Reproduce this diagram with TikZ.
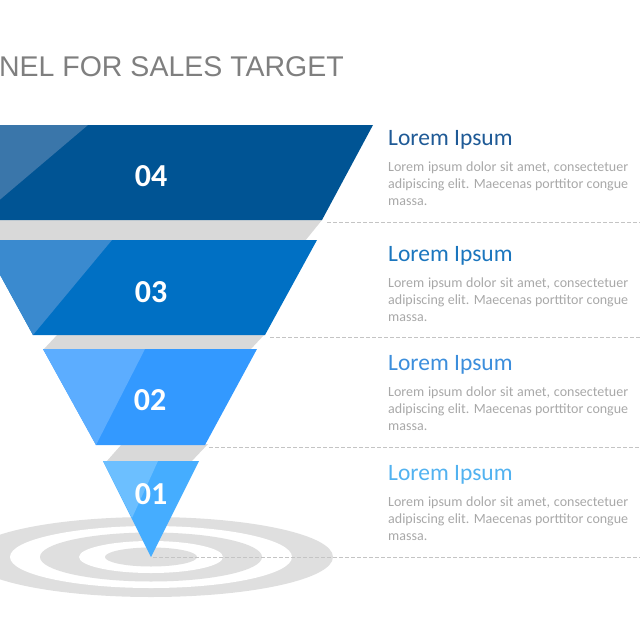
\documentclass[tikz,border=0pt]{standalone}
\usepackage{fontspec}
\setmainfont{Carlito}
\newfontfamily\headfont{Liberation Sans}
\definecolor{cA}{HTML}{005494}
\definecolor{cAl}{HTML}{3A76AA}
\definecolor{cB}{HTML}{0070C4}
\definecolor{cBl}{HTML}{3A8ACF}
\definecolor{cC}{HTML}{3399FF}
\definecolor{cCl}{HTML}{5CADFF}
\definecolor{cD}{HTML}{45ADFF}
\definecolor{cDl}{HTML}{6CBFFF}
\definecolor{tA}{HTML}{1F5A96}
\definecolor{tB}{HTML}{1B76BE}
\definecolor{tC}{HTML}{3C8EDC}
\definecolor{tD}{HTML}{52B2F0}
\definecolor{band}{HTML}{D9D9D9}
\definecolor{ring}{HTML}{DFDFDF}
\definecolor{bodygray}{HTML}{A8A8A8}
\definecolor{headgray}{HTML}{7F7F7F}
\definecolor{dashgray}{HTML}{C4C4C4}
\tikzset{
  numlabel/.style={text=white,font=\bfseries\fontsize{32}{36}\selectfont,inner sep=0pt},
  headline/.style={anchor=base west,inner sep=0pt,font=\fontsize{23.5}{28}\selectfont},
  bodyline/.style={anchor=base west,inner sep=0pt,text=bodygray,font=\fontsize{14}{17}\selectfont},
  guide/.style={draw=dashgray,line width=0.8pt,dash pattern=on 3.5pt off 2.5pt},
}
\newcommand{\fl}[1]{\makebox[240pt][s]{#1}}
\begin{document}
\begin{tikzpicture}[x=1pt,y=-1pt]
\useasboundingbox (0,0) rectangle (640,640);
\clip (0,0) rectangle (640,640);
% target rings
\fill[ring] (151,557) ellipse [x radius=182, y radius=40];
\fill[white] (151,557) ellipse [x radius=141, y radius=31];
\fill[ring] (151,557) ellipse [x radius=111, y radius=24.5];
\fill[white] (151,557) ellipse [x radius=72, y radius=16];
\fill[ring] (151,557) ellipse [x radius=46, y radius=9.5];
% coordinates
\coordinate (g4) at (327,222);
\coordinate (e4) at (640,222);
\coordinate (g3) at (270,337);
\coordinate (e3) at (640,337);
\coordinate (g2) at (209,447);
\coordinate (e2) at (640,447);
\coordinate (g1) at (153,557);
\coordinate (e1) at (640,557);
\draw[guide] (g4) -- (e4);
\draw[guide] (g3) -- (e3);
\draw[guide] (g2) -- (e2);
\draw[guide] (g1) -- (e1);
% gray bands
\fill[band] (-60,220) -- (322,220) -- (305,241) -- (-80,241) -- cycle;
\fill[band] (58,334) -- (265,334) -- (250,350) -- (43,350) -- cycle;
\fill[band] (122,444) -- (208,444) -- (191,462) -- (106,462) -- cycle;
% layers
\fill[cA] (-75,125) -- (373,125) -- (322,220) -- (-24,220) -- cycle;
\fill[cAl] (-75,125) -- (88,125) -- (-24,220) -- cycle;
\fill[cB] (-19,240) -- (317,240) -- (265,335) -- (33,335) -- cycle;
\fill[cBl] (-19,240) -- (112,240) -- (33,335) -- cycle;
\fill[cC] (43,349) -- (257,349) -- (205,445) -- (96,445) -- cycle;
\fill[cCl] (43,349) -- (145,349) -- (96,445) -- cycle;
\fill[cD] (103,461) -- (199,461) -- (151,557) -- cycle;
\fill[cDl] (103,461) -- (158,461) -- (132,518) -- cycle;
% numbers
\node[numlabel] (n4) at (151,176) {04};
\node[numlabel] (n3) at (151,292) {03};
\node[numlabel] (n2) at (150,400) {02};
\node[numlabel] (n1) at (151,494) {01};
% title
\node[anchor=base east,inner sep=0pt,text=headgray,font=\headfont\fontsize{28.5}{33}\selectfont] (title) at (344,76) {FUNNEL FOR SALES TARGET};
% text blocks
\node[headline,text=tA] (h4) at (388,145) {Lorem Ipsum};
\node[bodyline] (a4) at (388,171.5) {\fl{Lorem ipsum dolor sit amet, consectetuer}};
\node[bodyline] (b4) at (388,188.5) {\fl{adipiscing elit. Maecenas porttitor congue}};
\node[bodyline] (c4) at (388,205.5) {massa.};
\node[headline,text=tB] (h3) at (388,261) {Lorem Ipsum};
\node[bodyline] (a3) at (388,287.5) {\fl{Lorem ipsum dolor sit amet, consectetuer}};
\node[bodyline] (b3) at (388,304.5) {\fl{adipiscing elit. Maecenas porttitor congue}};
\node[bodyline] (c3) at (388,321.5) {massa.};
\node[headline,text=tC] (h2) at (388,370) {Lorem Ipsum};
\node[bodyline] (a2) at (388,396.5) {\fl{Lorem ipsum dolor sit amet, consectetuer}};
\node[bodyline] (b2) at (388,413.5) {\fl{adipiscing elit. Maecenas porttitor congue}};
\node[bodyline] (c2) at (388,430.5) {massa.};
\node[headline,text=tD] (h1) at (388,480) {Lorem Ipsum};
\node[bodyline] (a1) at (388,506.5) {\fl{Lorem ipsum dolor sit amet, consectetuer}};
\node[bodyline] (b1) at (388,523.5) {\fl{adipiscing elit. Maecenas porttitor congue}};
\node[bodyline] (c1) at (388,540.5) {massa.};
\end{tikzpicture}
\end{document}
